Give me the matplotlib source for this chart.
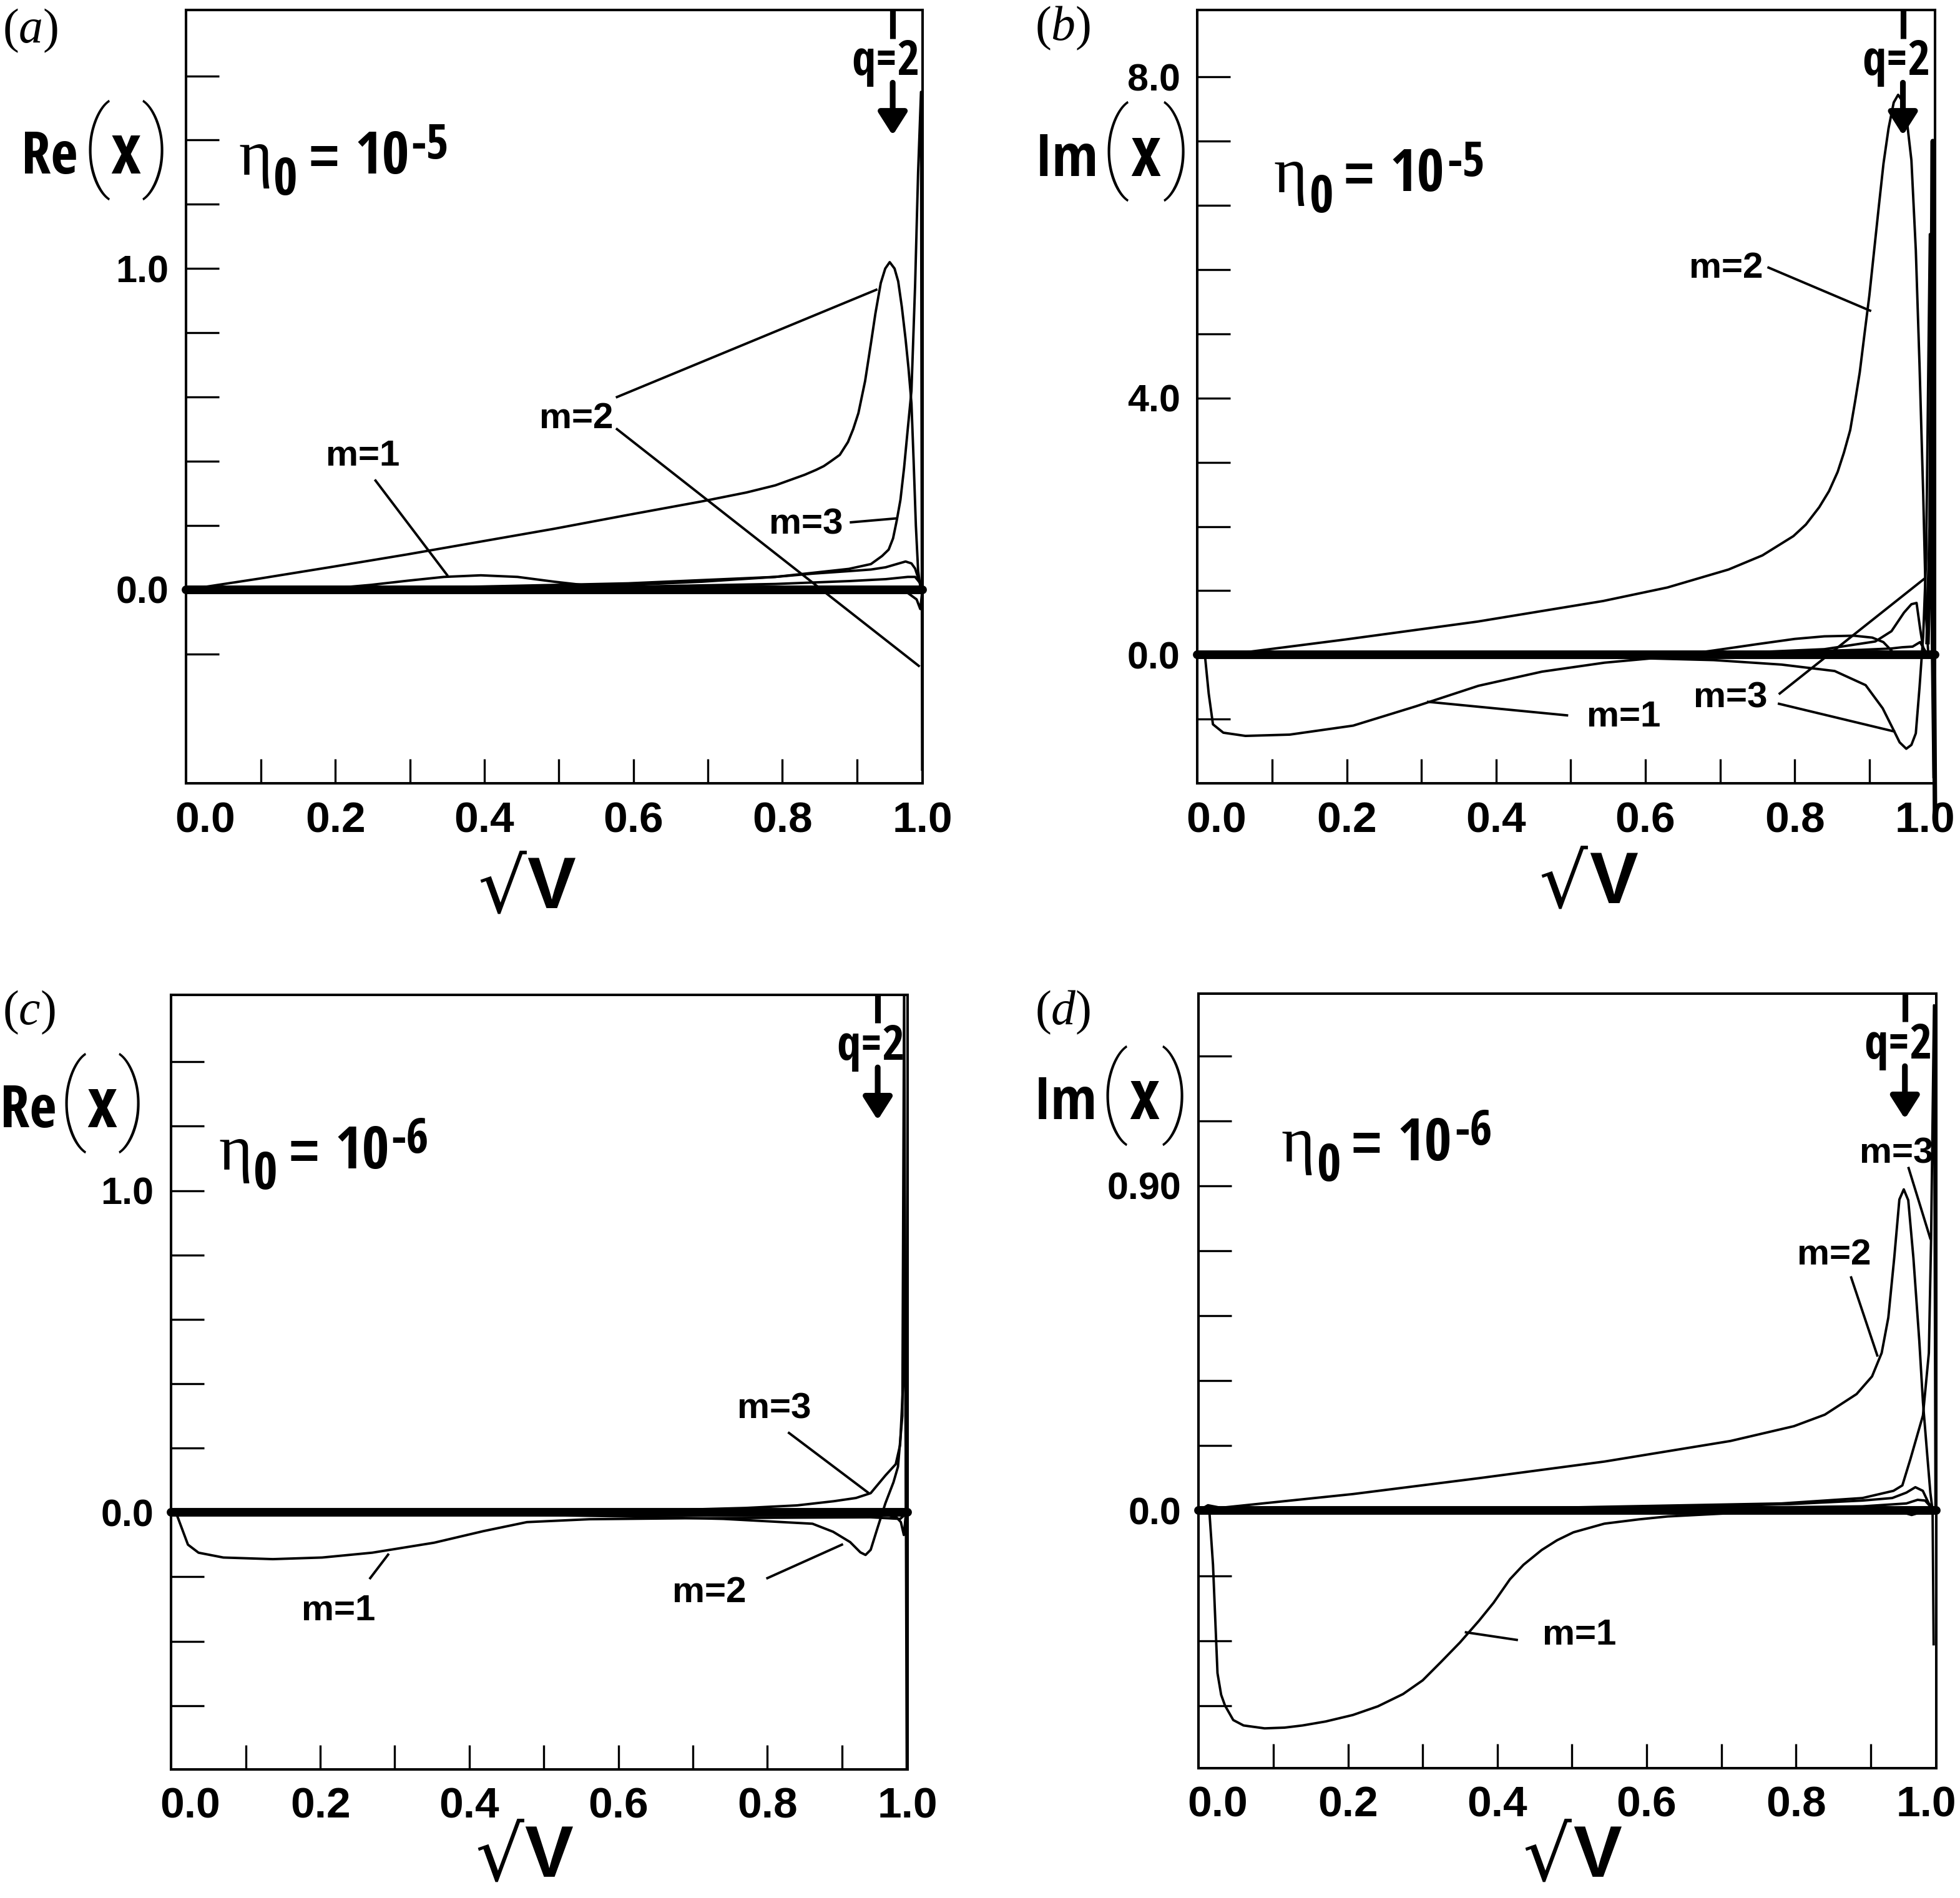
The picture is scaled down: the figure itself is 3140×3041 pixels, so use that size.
import numpy as np
import matplotlib
matplotlib.use('Agg')
import matplotlib.pyplot as plt
from matplotlib import font_manager as fm

# ---------------- data (x = sqrt(V); right frame edge at 0.988) ----------------
XMAX = 0.988
x_minor = [0.1, 0.2, 0.3, 0.4, 0.5, 0.6, 0.7, 0.8, 0.9]
x_label_pos_ac = [0.025, 0.2, 0.4, 0.6, 0.8, 0.988]
x_label_pos_bd = [0.025, 0.2, 0.4, 0.6, 0.8, 0.975]
x_labels = ['0.0', '0.2', '0.4', '0.6', '0.8', '1.0']

# panel (a): Re(x), eta0 = 1e-5
a_ylim = (-0.603, 1.805)
a_yminor = [-0.2, 0.0, 0.2, 0.4, 0.6, 0.8, 1.0, 1.2, 1.4, 1.6]
a_ymaj = [0.0, 1.0]
a_ymaj_lab = ['0.0', '1.0']
a_m2_x = [0, 0.0988, 0.1976, 0.2964, 0.3952, 0.494, 0.5928, 0.6916, 0.752, 0.7904, 0.8299, 0.845,
          0.8556, 0.865, 0.877, 0.888, 0.895, 0.902, 0.911, 0.919, 0.9248, 0.932, 0.938, 0.944,
          0.9505, 0.9554, 0.9603, 0.9653, 0.9692, 0.9732, 0.9761, 0.9791, 0.9821, 0.985, 0.988]
a_m2_y = [0, 0.035, 0.072, 0.11, 0.15, 0.19, 0.233, 0.275, 0.303, 0.325, 0.358, 0.373, 0.385,
          0.40, 0.42, 0.46, 0.50, 0.55, 0.65, 0.77, 0.86, 0.955, 1.0, 1.02, 1.0, 0.96, 0.88, 0.78,
          0.69, 0.58, 0.40, 0.2, 0.06, 0.01, 0.0]
a_m3_x = [0, 0.1976, 0.3952, 0.5928, 0.7904, 0.8892, 0.9188, 0.9337, 0.9426, 0.9485, 0.9534,
          0.9584, 0.9633, 0.9682, 0.9732, 0.9781, 0.9821, 0.986, 0.9875]
a_m3_y = [0, 0.004, 0.01, 0.02, 0.04, 0.065, 0.08, 0.105, 0.125, 0.16, 0.215, 0.28, 0.38, 0.5,
          0.62, 0.95, 1.3, 1.55, -0.56]
a_m1_x = [0, 0.148, 0.1976, 0.247, 0.2964, 0.3458, 0.3952, 0.4446, 0.494, 0.5434, 0.5928, 0.6916,
          0.7904, 0.8892, 0.9386, 0.9682, 0.9801, 0.985, 0.988]
a_m1_y = [0, 0, 0.005, 0.015, 0.028, 0.04, 0.045, 0.04, 0.025, 0.012, 0.008, 0.005, 0.003, 0.0,
          -0.005, -0.01, -0.03, -0.06, 0.0]
a_m4_x = [0, 0.2964, 0.494, 0.5928, 0.6916, 0.7904, 0.8398, 0.8892, 0.9188, 0.9386, 0.9534,
          0.9653, 0.9732, 0.9781, 0.9831, 0.988]
a_m4_y = [0, 0.002, 0.008, 0.015, 0.025, 0.04, 0.05, 0.058, 0.063, 0.07, 0.08, 0.088, 0.082,
          0.066, 0.03, 0]
a_m5_x = [0, 0.494, 0.7904, 0.8892, 0.9386, 0.9682, 0.9781, 0.985, 0.988]
a_m5_y = [0, 0.005, 0.018, 0.027, 0.033, 0.04, 0.04, 0.02, 0]
a_leaders = [((0.254, 0.350), (0.34, 0.046)), ((0.578, 0.926), (0.60, 0.934)),
             ((0.578, 0.983), (0.50, -0.237)), ((0.892, 0.952), (0.21, 0.222))]
a_labels = [('m=2', 0.523, 0.533), ('m=1', 0.237, 0.416), ('m=3', 0.832, 0.202)]

# panel (b): Im(x), eta0 = 1e-5
b_ylim = (-2.0, 10.04)
b_yminor = [-1, 0, 1, 2, 3, 4, 5, 6, 7, 8, 9]
b_ymaj = [0, 4, 9]
b_ymaj_lab = ['0.0', '4.0', '8.0']
b_m2_x = [0, 0.0494, 0.1976, 0.3754, 0.5434, 0.6294, 0.7114, 0.7568, 0.7983, 0.815, 0.8329, 0.846,
          0.8576, 0.866, 0.8744, 0.881, 0.8872, 0.8936, 0.9001, 0.9065, 0.9129, 0.919, 0.9258,
          0.9327, 0.9386, 0.9445, 0.9505, 0.9564, 0.9623, 0.9673, 0.9722, 0.9761, 0.9791]
b_m2_y = [0, 0.02, 0.24, 0.52, 0.84, 1.05, 1.33, 1.55, 1.85, 2.03, 2.3, 2.55, 2.85, 3.15, 3.5,
          3.95, 4.4, 5.0, 5.6, 6.3, 7.0, 7.65, 8.2, 8.6, 8.72, 8.62, 8.3, 7.7, 6.3, 4.5, 2.5, 0.6,
          0.0]
b_m1_x = [0, 0.0099, 0.015, 0.0207, 0.0346, 0.0642, 0.1235, 0.2085, 0.2924, 0.3764, 0.4614,
          0.5454, 0.6294, 0.6916, 0.7509, 0.8003, 0.8398, 0.8793, 0.904, 0.9188, 0.9337, 0.9485,
          0.9682, 0.988]
b_m1_y = [0, 0, -0.6, -1.08, -1.21, -1.26, -1.24, -1.10, -0.80, -0.48, -0.26, -0.12, -0.03, 0.07,
          0.17, 0.25, 0.29, 0.30, 0.27, 0.2, 0.02, -0.03, -0.02, 0]
b_m3lo_x = [0, 0.2964, 0.494, 0.5928, 0.6916, 0.7825, 0.8536, 0.8951, 0.9179, 0.9317, 0.9406,
            0.9495, 0.9564, 0.9623, 0.9673, 0.9722, 0.9761, 0.9811, 0.984, 0.986]
b_m3lo_y = [0, -0.01, -0.03, -0.05, -0.08, -0.15, -0.25, -0.47, -0.83, -1.15, -1.36, -1.46, -1.4,
            -1.22, -0.5, 0.3, 1.5, 6.55, 0.0, -1.9]
b_m3up_x = [0, 0.2964, 0.5928, 0.741, 0.8398, 0.908, 0.9297, 0.9465, 0.9564, 0.9633, 0.9682,
            0.9722, 0.9781]
b_m3up_y = [0, 0, 0.02, 0.04, 0.09, 0.21, 0.37, 0.66, 0.79, 0.81, 0.4, 0.1, 0]
b_m4_x = [0, 0.494, 0.7904, 0.8892, 0.929, 0.944, 0.958, 0.968, 0.973, 0.978]
b_m4_y = [0, 0.02, 0.05, 0.08, 0.1, 0.12, 0.13, 0.2, 0.1, 0]
b_spike_x = [0.978, 0.982, 0.985, 0.9865, 0.988]
b_spike_y = [0.2, 2.0, 8.0, 0.0, -2.5]
b_leaders = [((0.765, 0.901), (6.03, 5.36)), ((0.495, 0.309), (-0.94, -0.73)),
             ((0.780, 0.973), (-0.60, 1.18)), ((0.779, 0.933), (-0.76, -1.19))]
b_labels = [('m=2', 0.708, 6.02), ('m=1', 0.571, -0.97), ('m=3', 0.714, -0.67)]

# panel (c): Re(x), eta0 = 1e-6
c_ylim = (-0.798, 1.609)
c_yminor = [-0.6, -0.4, -0.2, 0.0, 0.2, 0.4, 0.6, 0.8, 1.0, 1.2, 1.4]
c_ymaj = [0.0, 1.0]
c_ymaj_lab = ['0.0', '1.0']
c_m1_x = [0, 0.0079, 0.0224, 0.0366, 0.0699, 0.1363, 0.2025, 0.2697, 0.3527, 0.4189, 0.4772,
          0.5612, 0.6916, 0.8398, 0.9386, 0.9781, 0.988]
c_m1_y = [0, -0.01, -0.10, -0.125, -0.14, -0.145, -0.14, -0.125, -0.094, -0.058, -0.03, -0.021,
          -0.018, -0.016, -0.015, -0.02, 0]
c_m2_x = [0, 0.2964, 0.494, 0.6027, 0.741, 0.8605, 0.8882, 0.911, 0.9248, 0.9317, 0.9386, 0.9475,
          0.9584, 0.9692, 0.9752, 0.9811, 0.9835, 0.987]
c_m2_y = [0, -0.003, -0.008, -0.012, -0.02, -0.035, -0.06, -0.092, -0.124, -0.132, -0.116, -0.05,
          0.029, 0.094, 0.142, 0.30, 1.65, -0.795]
c_m3_x = [0, 0.2964, 0.494, 0.5928, 0.6916, 0.7706, 0.8398, 0.8892, 0.9188, 0.9386, 0.9584,
          0.9722, 0.9781, 0.9821, 0.984, 0.986]
c_m3_y = [0, 0.001, 0.003, 0.005, 0.009, 0.014, 0.022, 0.035, 0.045, 0.06, 0.115, 0.15, 0.21,
          0.4, 1.0, -0.02]
c_m4_x = [0.8892, 0.9386, 0.9633, 0.9732, 0.9791, 0.9831, 0.986]
c_m4_y = [-0.005, -0.008, -0.01, -0.015, -0.03, -0.07, 0]
c_leaders = [((0.267, 0.291), (-0.204, -0.131)), ((0.800, 0.900), (-0.204, -0.10)),
             ((0.829, 0.9355), (0.247, 0.061))]
c_labels = [('m=3', 0.809, 0.321), ('m=1', 0.224, -0.306), ('m=2', 0.722, -0.249)]

# panel (d): Im(x), eta0 = 1e-6
d_ylim = (-0.713, 1.433)
d_yminor = [-0.54, -0.36, -0.18, 0.0, 0.18, 0.36, 0.54, 0.72, 0.90, 1.08, 1.26]
d_ymaj = [0.0, 0.90]
d_ymaj_lab = ['0.0', '0.90']
d_m2_x = [0, 0.0123, 0.0296, 0.2065, 0.3754, 0.5434, 0.7123, 0.7973, 0.8388, 0.8813, 0.902,
          0.9149, 0.9238, 0.9317, 0.9386, 0.9445, 0.9505, 0.9574, 0.9653, 0.9702, 0.9761, 0.9801,
          0.9831, 0.9845]
d_m2_y = [0, 0.015, 0.008, 0.046, 0.09, 0.136, 0.193, 0.234, 0.266, 0.323, 0.372, 0.437, 0.535,
          0.70, 0.862, 0.89, 0.86, 0.70, 0.47, 0.30, 0.15, 0.05, 0.0, -0.37]
d_m3_x = [0, 0.3952, 0.7805, 0.8892, 0.9307, 0.9426, 0.9534, 0.9702, 0.9781, 0.9811, 0.985, 0.987]
d_m3_y = [0, 0.005, 0.02, 0.035, 0.055, 0.07, 0.143, 0.264, 0.437, 0.754, 1.40, 0.0]
d_m1_x = [0, 0.014, 0.0191, 0.0251, 0.030, 0.0352, 0.0462, 0.06, 0.0882, 0.115, 0.139, 0.17,
          0.2065, 0.24, 0.2737, 0.30, 0.3246, 0.35, 0.3754, 0.395, 0.4169, 0.435, 0.4594, 0.48,
          0.5019, 0.5434, 0.59, 0.6284, 0.7123, 0.7973, 0.8892, 0.9485, 0.988]
d_m1_y = [0, 0.005, -0.15, -0.45, -0.51, -0.54, -0.58, -0.595, -0.603, -0.601, -0.595, -0.584,
          -0.566, -0.542, -0.508, -0.47, -0.419, -0.365, -0.305, -0.255, -0.19, -0.15, -0.109,
          -0.082, -0.06, -0.036, -0.024, -0.016, -0.007, 0.0, 0.003, -0.005, 0]
d_m4_x = [0, 0.2964, 0.5928, 0.7904, 0.8892, 0.929, 0.948, 0.960, 0.970, 0.978, 0.988]
d_m4_y = [0, 0, 0.008, 0.018, 0.028, 0.035, 0.05, 0.065, 0.055, 0.02, 0]
d_m5_x = [0, 0.494, 0.889, 0.948, 0.963, 0.973, 0.983, 0.988]
d_m5_y = [0, 0.003, 0.012, 0.02, 0.03, 0.028, 0.005, 0]
d_m6_x = [0.93, 0.945, 0.955, 0.965, 0.975]
d_m6_y = [0, -0.006, -0.012, -0.006, 0]
d_leaders = [((0.426, 0.358), (-0.358, -0.337)), ((0.874, 0.909), (0.646, 0.43)),
             ((0.951, 0.980), (0.949, 0.754))]
d_labels = [('m=3', 0.935, 0.988), ('m=2', 0.851, 0.707), ('m=1', 0.510, -0.345)]

q2_x = {'a': 0.948, 'b': 0.945, 'c': 0.948, 'd': 0.946}

# ---------------- fonts ----------------
plt.rcParams['font.family'] = ['Liberation Sans', 'DejaVu Sans']
plt.rcParams['font.weight'] = 'bold'
plt.rcParams['mathtext.fontset'] = 'custom'
plt.rcParams['mathtext.rm'] = 'Liberation Serif:weight=normal'
plt.rcParams['mathtext.it'] = 'Liberation Serif:slant=italic:weight=normal'
plt.rcParams['mathtext.bf'] = 'Liberation Serif:weight=bold'


def _weight(w):
    if isinstance(w, (int, float)):
        return int(w)
    return {'bold': 700, 'normal': 400, 'regular': 400, 'book': 400}.get(str(w), 400)


def find_condensed_bold():
    prio = {'Liberation Sans Narrow': 0, 'Noto Sans': 1, 'Noto Sans Condensed': 1,
            'Open Sans': 2, 'Open Sans Condensed': 2, 'Roboto Condensed': 3, 'Roboto': 3,
            'Arimo': 4, 'DejaVu Sans': 5, 'DejaVu Sans Condensed': 5}
    srank = {'condensed': 0, 'semi-condensed': 1, 'extra-condensed': 2}
    cands = []
    for f in fm.fontManager.ttflist:
        if f.name not in prio or f.style != 'normal':
            continue
        w = _weight(f.weight)
        if w < 600 or w > 800:
            continue
        st = str(f.stretch)
        narrow = ('Narrow' in f.name) or ('Condensed' in f.name)
        if st in srank:
            r = srank[st]
        elif narrow:
            r = 0
        else:
            continue
        cands.append((prio[f.name], r, abs(w - 700), f.fname))
    if cands:
        cands.sort()
        return fm.FontProperties(fname=cands[0][3])
    return fm.FontProperties(family=['Roboto', 'Liberation Sans'], weight='bold')


COND = find_condensed_bold()
SERIF = fm.FontProperties(family=['Liberation Serif', 'DejaVu Serif'], weight='normal')
THIN = fm.FontProperties(family=['Roboto', 'DejaVu Sans'], weight=100)
ROOT = fm.FontProperties(family=['DejaVu Sans'], weight='normal')
SANSB = fm.FontProperties(family=['Liberation Sans', 'DejaVu Sans'], weight='bold')

W, H = 1568.0, 1519.0
fig = plt.figure(figsize=(15.7, 15.205), dpi=200)
renderer = fig.canvas.get_renderer()
LW = 1.4


def ftext(px, py, s, size, fp, ha='left', va='baseline'):
    p = fp.copy()
    p.set_size(size)
    return fig.text(px / W, 1 - py / H, s, fontproperties=p, ha=ha, va=va)


def right_edge(t):
    bb = t.get_window_extent(renderer)
    return bb.x1 / 2.0   # full-res px -> layout px


def run(pieces, gap=1.0):
    """pieces: (ref_left, baseline, text, size, fontprops, va); keep reference positions, never overlap."""
    prev = -1e9
    for left, base, s, size, fp, va in pieces:
        x = max(left, prev + gap)
        t = ftext(x, base, s, size, fp, va=va)
        prev = right_edge(t)


def make_axes(box, ylim, yminor, ymaj, ymaj_lab, xlpos):
    x0, x1, y0, y1 = box
    ax = fig.add_axes([x0 / W, 1 - y1 / H, (x1 - x0) / W, (y1 - y0) / H])
    ax.set_xlim(0, XMAX)
    ax.set_ylim(*ylim)
    ax.xaxis.remove_overlapping_locs = False
    ax.yaxis.remove_overlapping_locs = False
    ax.set_xticks(x_minor, minor=True)
    ax.set_yticks(yminor, minor=True)
    ax.set_xticks(xlpos)
    ax.set_xticklabels(x_labels)
    ax.set_yticks(ymaj)
    ax.set_yticklabels(ymaj_lab)
    ax.tick_params(which='both', direction='in', top=False, right=False)
    ax.tick_params(which='major', length=0)
    ax.tick_params(axis='x', which='minor', length=14, width=1.2)
    ax.tick_params(axis='y', which='minor', length=19, width=1.2)
    ax.tick_params(axis='x', which='major', pad=10, labelsize=25)
    ax.tick_params(axis='y', which='major', pad=10, labelsize=22)
    for s in ax.spines.values():
        s.set_linewidth(1.45)
    ax.plot([0, XMAX], [0, 0], color='k', lw=5.0, solid_capstyle='round', clip_on=False, zorder=3)
    return ax


def curves(ax, series, clip=True):
    for xs, ys in series:
        ax.plot(xs, ys, color='k', lw=LW, clip_on=clip, solid_joinstyle='round')


def leaders(ax, lst):
    for xs, ys in lst:
        ax.plot(xs, ys, color='k', lw=LW)


def labels(ax, lst):
    for s, x, y in lst:
        ax.text(x, y, s, ha='center', va='center', size=21, weight='bold')


def q2(ax, xq):
    tr = ax.get_xaxis_transform()
    ax.plot([xq, xq], [1.0, 0.963], transform=tr, color='k', lw=3.3,
            solid_capstyle='butt', clip_on=False)
    p = COND.copy()
    p.set_size(28)
    ax.annotate('q=2', xy=(xq, 0.932), xycoords=tr, xytext=(-4, 0), textcoords='offset points',
                ha='center', va='center', fontproperties=p)
    ax.annotate('', xy=(xq, 0.838), xycoords=tr, xytext=(xq, 0.906), textcoords=tr,
                arrowprops=dict(arrowstyle='-|>,head_length=1.1,head_width=0.7', lw=3.3,
                                color='k', shrinkA=0, shrinkB=0, mutation_scale=10))


def eta_label(px, py, expo):
    run([(px, py + 1, 'η', 37, SERIF, 'baseline'),
         (px + 24.7, py + 16.8, '0', 30, COND, 'baseline'),
         (px + 56, py, '=', 30, SANSB, 'baseline'),
         (px + 93, py, '10', 34, COND, 'baseline'),
         (px + 135, py - 12.3, expo, 28, COND, 'baseline')], gap=0.5)


def ylabel(px, py, word, dl, dx, dr, pc):
    run([(px, py, word, 34, COND, 'baseline'),
         (px + dl, pc, '(', 57, THIN, 'center'),
         (px + dx, py, 'x', 40, COND, 'baseline'),
         (px + dr, pc, ')', 57, THIN, 'center')], gap=0.0)


def xlabel(px_sqrt, px_v, base):
    run([(px_sqrt, base + 3, '√', 44, ROOT, 'baseline'),
         (px_v, base, 'V', 42, SANSB, 'baseline')], gap=0.0)


def panel_letter(px, py, letter):
    fig.text(px / W, 1 - py / H, r'$(\mathit{%s})$' % letter, size=28, ha='left', va='baseline')


# (a)
ax_a = make_axes((149, 738, 8, 627), a_ylim, a_yminor, a_ymaj, a_ymaj_lab, x_label_pos_ac)
curves(ax_a, [(a_m2_x, a_m2_y), (a_m1_x, a_m1_y), (a_m4_x, a_m4_y), (a_m5_x, a_m5_y)])
curves(ax_a, [(a_m3_x, a_m3_y)], clip=False)
leaders(ax_a, a_leaders)
labels(ax_a, a_labels)
q2(ax_a, q2_x['a'])

# (b)
ax_b = make_axes((958, 1548, 8, 627), b_ylim, b_yminor, b_ymaj, b_ymaj_lab, x_label_pos_bd)
curves(ax_b, [(b_m2_x, b_m2_y), (b_m1_x, b_m1_y), (b_m3lo_x, b_m3lo_y), (b_m3up_x, b_m3up_y),
              (b_m4_x, b_m4_y)])
ax_b.plot(b_spike_x, b_spike_y, color='k', lw=2.6, clip_on=False)
leaders(ax_b, b_leaders)
labels(ax_b, b_labels)
q2(ax_b, q2_x['b'])

# (c)
ax_c = make_axes((137, 726, 796, 1416), c_ylim, c_yminor, c_ymaj, c_ymaj_lab, x_label_pos_ac)
curves(ax_c, [(c_m1_x, c_m1_y), (c_m2_x, c_m2_y), (c_m3_x, c_m3_y), (c_m4_x, c_m4_y)])
leaders(ax_c, c_leaders)
labels(ax_c, c_labels)
q2(ax_c, q2_x['c'])

# (d)
ax_d = make_axes((959, 1549, 795, 1415), d_ylim, d_yminor, d_ymaj, d_ymaj_lab, x_label_pos_bd)
curves(ax_d, [(d_m2_x, d_m2_y), (d_m1_x, d_m1_y), (d_m4_x, d_m4_y), (d_m5_x, d_m5_y),
              (d_m6_x, d_m6_y)])
curves(ax_d, [(d_m3_x, d_m3_y)], clip=False)
leaders(ax_d, d_leaders)
labels(ax_d, d_labels)
q2(ax_d, q2_x['d'])

# free text
panel_letter(2, 34, 'a')
panel_letter(828, 32, 'b')
panel_letter(2, 820, 'c')
panel_letter(828, 820, 'd')

ylabel(17, 139, 'Re', 48, 66, 90, 120)
ylabel(828, 141, 'Im', 44, 63, 88, 121)
ylabel(0, 902, 'Re', 46, 66, 90, 883)
ylabel(827, 895.5, 'Im', 47, 64, 88, 877)

eta_label(191, 139, '-5')
eta_label(1019, 153, '-5')
eta_label(175, 935, '-6')
eta_label(1025, 928.5, '-6')

xlabel(382, 420, 727)
xlabel(1231, 1266, 723)
xlabel(380, 414, 1502)
xlabel(1218, 1256, 1502)

fig.savefig('out.png', dpi=200)
